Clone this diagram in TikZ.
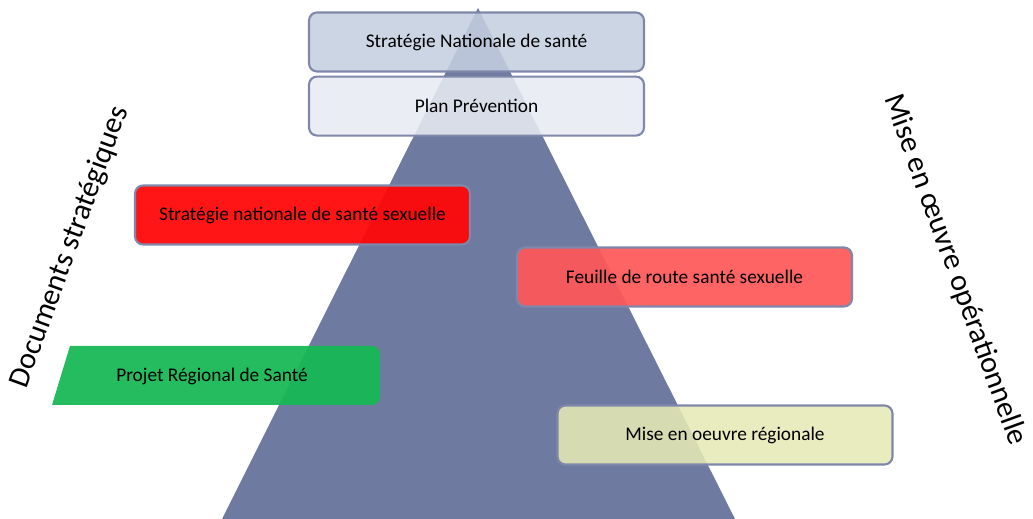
\documentclass[tikz,border=0pt]{standalone}
\usepackage{fontspec}
\setmainfont{Carlito}
\usepackage{tikz}
\usetikzlibrary{positioning}
\definecolor{pyramid}{HTML}{6F7AA0}
\definecolor{edgeblue}{HTML}{7F87AB}
\definecolor{natblue}{HTML}{C5CFE0}
\definecolor{planblue}{HTML}{E8EBF2}
\definecolor{redsx}{HTML}{FF0808}
\definecolor{pinksx}{HTML}{FF5858}
\definecolor{greenrs}{HTML}{18B856}
\definecolor{yellowreg}{HTML}{E6E9B5}

\begin{document}
\begin{tikzpicture}[x=0.02cm, y=-0.02cm,
    box/.style={rectangle, draw=edgeblue, line width=1.2pt, rounded corners=0.16cm, fill opacity=0.88, text opacity=1,
      minimum width=6.7cm, minimum height=1.18cm, font=\fontsize{11}{13}\selectfont},
    side/.style={font=\fontsize{17.2}{20}\selectfont, inner sep=1pt}]

    \useasboundingbox (0,0) rectangle (1033,519);

    % pyramid behind the boxes
    \fill[pyramid] (478,8) -- (735,519) -- (222,519) -- cycle;

    \node[box, fill=natblue] (nat) at (476.5,42) {Stratégie Nationale de santé};
    \node[box, fill=planblue, below=0.06cm of nat] (plan) {Plan Prévention};
    \node[box, fill=redsx, fill opacity=0.95] (snss) at (302.5,215) {Stratégie nationale de santé sexuelle};
    \node[box, fill=pinksx, fill opacity=0.93] (feuille) at (684.5,277) {Feuille de route santé sexuelle};
    \node[box, fill=yellowreg] (region) at (725,435) {Mise en oeuvre régionale};

    % projet regional: slanted left side
    \fill[greenrs, fill opacity=0.95] (52,405) -- (70,346) {[rounded corners=0.16cm] -- (380,346) -- (380,405)} -- cycle;
    \node[font=\fontsize{11}{13}\selectfont] (prs) at (212,376) {Projet Régional de Santé};

    \node[side, rotate=70] (docs) at (70,247) {Documents stratégiques};
    \node[side, rotate=-70] (mise) at (955,270) {Mise en œuvre opérationnelle};

\end{tikzpicture}
\end{document}
